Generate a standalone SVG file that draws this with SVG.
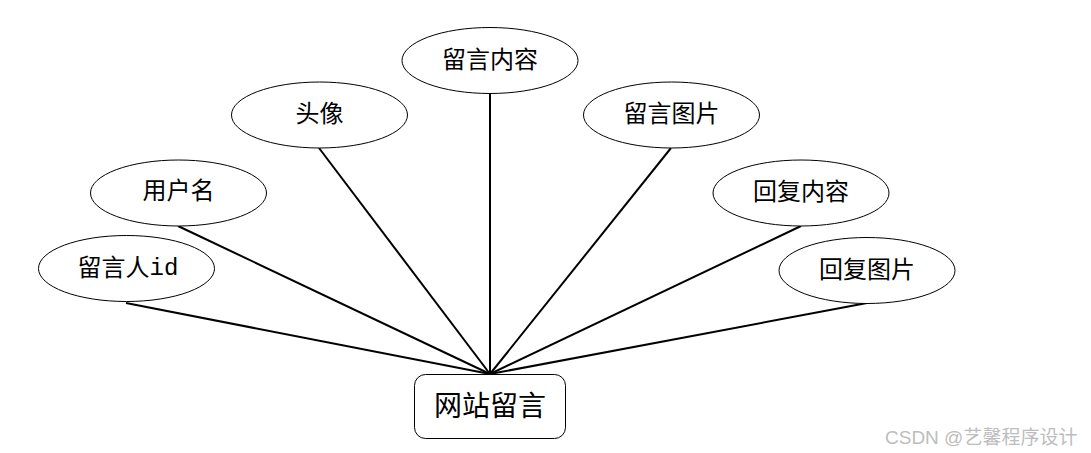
<svg xmlns="http://www.w3.org/2000/svg" width="1091" height="453" viewBox="0 0 1091 453">
<style>
.e{fill:#fff;stroke:#000;stroke-width:1}
.t{font-family:"Liberation Serif","Noto Sans CJK SC",serif;font-size:24px;fill:#000;text-anchor:middle;dominant-baseline:central}
.m{font-family:"Liberation Mono",monospace}
.c line{stroke:#000;stroke-width:2}
.w{font-family:"Liberation Sans","Noto Sans CJK SC",sans-serif;font-size:19px;fill:#bdbdbd}
</style>
<rect width="1091" height="453" fill="#fff"/>
<g class="c" id="connectors">
<line x1="126" y1="303" x2="490" y2="374"/>
<line x1="178" y1="226" x2="490" y2="374"/>
<line x1="319" y1="148" x2="490" y2="374"/>
<line x1="490" y1="94" x2="490" y2="374"/>
<line x1="671" y1="148" x2="490" y2="374"/>
<line x1="801" y1="226" x2="490" y2="374"/>
<line x1="867" y1="303" x2="490" y2="374"/>
</g>
<g id="n1"><ellipse class="e" cx="126.5" cy="268.5" rx="88" ry="33"/><text class="t" x="128" y="268">留言人<tspan class="m">id</tspan></text></g>
<g id="n2"><ellipse class="e" cx="178.5" cy="193" rx="88" ry="33"/><text class="t" x="178.5" y="191">用户名</text></g>
<g id="n3"><ellipse class="e" cx="319.5" cy="115" rx="88" ry="33"/><text class="t" x="319.5" y="114">头像</text></g>
<g id="n4"><ellipse class="e" cx="490" cy="60.5" rx="88" ry="33"/><text class="t" x="490" y="60">留言内容</text></g>
<g id="n5"><ellipse class="e" cx="671.5" cy="115" rx="88" ry="33"/><text class="t" x="671.5" y="114">留言图片</text></g>
<g id="n6"><ellipse class="e" cx="801" cy="193" rx="88" ry="33"/><text class="t" x="801" y="192">回复内容</text></g>
<g id="n7"><ellipse class="e" cx="867" cy="270.5" rx="88" ry="33"/><text class="t" x="867" y="270">回复图片</text></g>
<g id="center"><rect x="414.5" y="374.5" width="151" height="64" rx="11" fill="#fff" stroke="#000" stroke-width="1"/><text class="t" x="490" y="406" style="font-size:28px">网站留言</text></g>
<text class="w" x="885" y="444">CSDN @艺馨程序设计</text>
</svg>
